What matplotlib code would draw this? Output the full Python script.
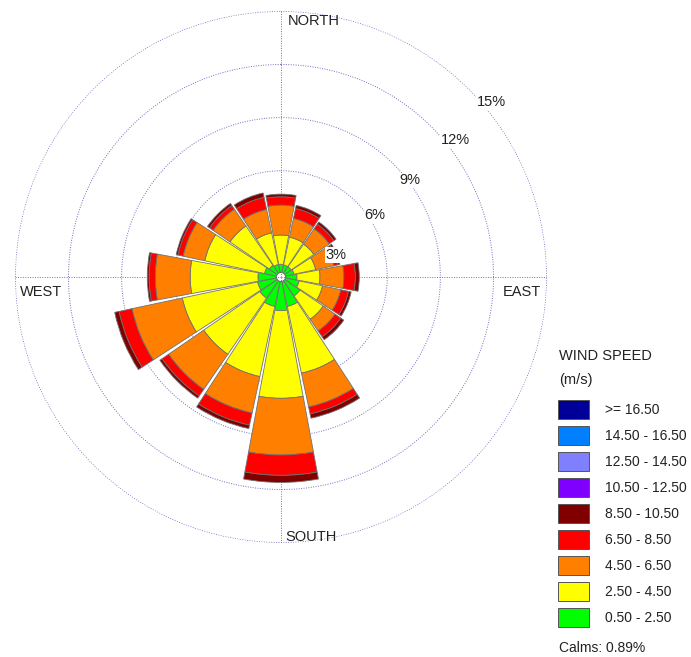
import numpy as np
import matplotlib
matplotlib.use("Agg")
import matplotlib.pyplot as plt
from matplotlib.patches import Rectangle

plt.rcParams['font.family'] = ['Liberation Sans', 'DejaVu Sans']

# 风向 (16个方位, 顺时针从北开始)
directions = ['N', 'NNE', 'NE', 'ENE', 'E', 'ESE', 'SE', 'SSE',
              'S', 'SSW', 'SW', 'WSW', 'W', 'WNW', 'NW', 'NNW']

# 各风速等级频率 (%)
spd_0_5_2_5 = [0.47, 0.45, 0.45, 0.50, 0.65, 0.80, 1.05, 1.45,
               1.65, 1.45, 1.20, 1.10, 1.05, 0.70, 0.55, 0.47]
spd_2_5_4_5 = [1.65, 1.60, 1.55, 1.25, 1.30, 1.35, 1.60, 3.85,
               4.95, 4.05, 3.85, 4.35, 3.83, 3.45, 2.70, 1.83]
spd_4_5_6_5 = [1.69, 1.08, 1.05, 1.05, 1.35, 1.05, 0.80, 1.95,
               3.20, 2.10, 2.40, 2.90, 1.97, 1.25, 1.15, 1.35]
spd_6_5_8_5 = [0.47, 0.57, 0.32, 0.25, 0.65, 0.45, 0.40, 0.40,
               1.15, 0.70, 0.45, 0.75, 0.35, 0.30, 0.25, 0.70]
spd_8_5_10_5 = [0.15, 0.18, 0.15, 0.10, 0.22, 0.15, 0.20, 0.25,
                0.40, 0.20, 0.15, 0.25, 0.10, 0.10, 0.14, 0.25]

classes = [spd_0_5_2_5, spd_2_5_4_5, spd_4_5_6_5, spd_6_5_8_5, spd_8_5_10_5]
class_colors = ['#00ff00', '#ffff00', '#ff8000', '#ff0000', '#800000']

# 图例
legend_labels = ['>= 16.50', '14.50 - 16.50', '12.50 - 14.50', '10.50 - 12.50',
                 '8.50 - 10.50', '6.50 - 8.50', '4.50 - 6.50', '2.50 - 4.50',
                 '0.50 - 2.50']
legend_colors = ['#000099', '#0080ff', '#8080ff', '#8000ff',
                 '#800000', '#ff0000', '#ff8000', '#ffff00', '#00ff00']

ring_values = [3, 6, 9, 12, 15]
ring_labels = ['3%', '6%', '9%', '12%', '15%']
ring_label_angle = [68.2, 56.6, 53.1, 51.8, 50.3]
ring_label_r = [3.34, 6.35, 9.1, 12.5, 15.46]

calm_r = 0.25
calms_text = 'Calms: 0.89%'

W, H = 691, 657
fig = plt.figure(figsize=(W / 100, H / 100), dpi=100)

# 极坐标轴: 中心 (281, 277), 半径 266 px 对应 15%
cx, cy, R = 281, 277, 266
ax = fig.add_axes([(cx - R) / W, (H - cy - R) / H, 2 * R / W, 2 * R / H],
                  projection='polar')
ax.set_theta_zero_location('N')
ax.set_theta_direction(-1)
ax.set_ylim(0, 15.02)

theta = np.deg2rad(np.arange(len(directions)) * 22.5)
width = np.deg2rad(21.0)
bottom = np.full(len(directions), calm_r)
for vals, col in zip(classes, class_colors):
    vals = np.array(vals)
    ax.bar(theta, vals, width=width, bottom=bottom, color=col,
           edgecolor='#707070', linewidth=0.6, zorder=3)
    bottom = bottom + vals

# 网格
grid_kw = dict(color='#7070c0', linestyle=(0, (1, 1.5)), linewidth=0.7)
ax.set_yticks(ring_values)
ax.set_yticklabels([])
ax.set_xticks(np.deg2rad([0, 90, 180, 270]))
ax.set_xticklabels([])
ax.grid(True, **grid_kw)
ax.spines['polar'].set_visible(False)
ax.tick_params(length=0)

for lab, ang, r in zip(ring_labels, ring_label_angle, ring_label_r):
    ax.text(np.deg2rad(ang), r, lab, ha='center', va='center', fontsize=10.5,
            color='#222222', zorder=5,
            bbox=dict(facecolor='white', edgecolor='none', pad=0.5))

# 方位标签
fig.text(288 / W, 1 - 21 / H, 'NORTH', ha='left', va='center', fontsize=10.5, color='#222222')
fig.text(20 / W, 1 - 292 / H, 'WEST', ha='left', va='center', fontsize=10.5, color='#222222')
fig.text(503 / W, 1 - 292 / H, 'EAST', ha='left', va='center', fontsize=10.5, color='#222222')
fig.text(285 / W, 1 - 537 / H, 'SOUTH', ha='left', va='center', fontsize=10.5, color='#222222')

# 图例
fig.text(559 / W, 1 - 356 / H, 'WIND SPEED', ha='left', va='center', fontsize=10.5, color='#222222')
fig.text(559 / W, 1 - 380 / H, '(m/s)', ha='left', va='center', fontsize=10.5, color='#222222')
for i, (lab, col) in enumerate(zip(legend_labels, legend_colors)):
    ytop = 400 + i * 26
    fig.patches.append(Rectangle((558 / W, 1 - (ytop + 19) / H), 31 / W, 19 / H,
                                 transform=fig.transFigure, facecolor=col,
                                 edgecolor='#555555', linewidth=0.7))
    fig.text(605 / W, 1 - (ytop + 9.5) / H, lab, ha='left', va='center',
             fontsize=10, color='#222222')
fig.text(559 / W, 1 - 648 / H, calms_text, ha='left', va='center', fontsize=10, color='#222222')

fig.savefig('out.png', dpi=100)
